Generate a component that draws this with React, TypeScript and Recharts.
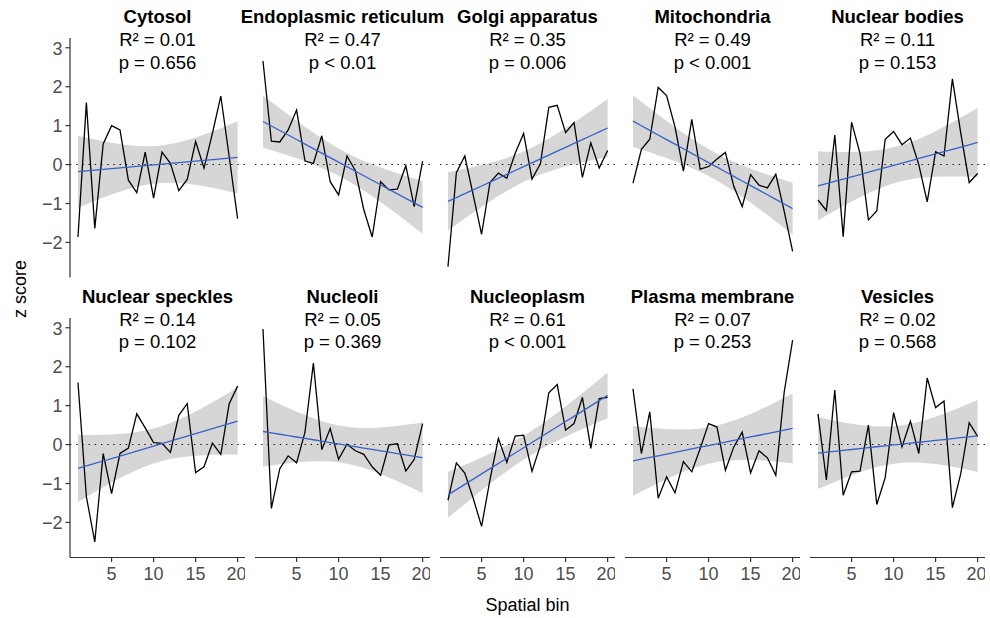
import { ComposedChart, Line, Area, XAxis, YAxis, ReferenceLine } from 'recharts';

const bins = [1, 2, 3, 4, 5, 6, 7, 8, 9, 10, 11, 12, 13, 14, 15, 16, 17, 18, 19, 20];
const xTicks = [5, 10, 15, 20];
const yTicks = [-2, -1, 0, 1, 2, 3];

const cytosol = [-1.86, 1.59, -1.64, 0.53, 1.0, 0.89, -0.4, -0.72, 0.32, -0.86, 0.32, 0.03, -0.67, -0.38, 0.59, -0.09, 0.8, 1.76, 0.2, -1.39];
const er = [2.66, 0.6, 0.58, 0.89, 1.4, 0.09, 0.03, 0.74, -0.44, -0.78, 0.22, -0.16, -1.16, -1.86, -0.44, -0.65, -0.63, -0.03, -1.08, 0.09];
const golgi = [-2.62, -0.21, 0.22, -0.78, -1.79, -0.46, -0.22, -0.35, 0.29, 0.8, -0.37, 0.02, 1.47, 1.52, 0.82, 1.08, -0.33, 0.56, -0.09, 0.36];
const mito = [-0.48, 0.39, 0.65, 1.98, 1.77, 0.97, -0.17, 1.16, -0.12, -0.05, 0.14, 0.31, -0.56, -1.08, -0.26, -0.53, -0.6, -0.25, -1.2, -2.23];
const nucBodies = [-0.91, -1.18, 0.76, -1.85, 1.09, 0.29, -1.42, -1.19, 0.65, 0.85, 0.51, 0.68, 0.0, -0.96, 0.33, 0.22, 2.2, 0.8, -0.46, -0.23];
const speckles = [1.59, -1.34, -2.5, -0.23, -1.26, -0.23, -0.09, 0.79, 0.43, 0.05, 0.03, -0.2, 0.75, 1.05, -0.72, -0.57, 0.04, -0.25, 1.05, 1.5];
const nucleoli = [2.97, -1.64, -0.62, -0.29, -0.47, 0.32, 2.09, -0.13, 0.41, -0.38, 0.01, -0.16, -0.25, -0.57, -0.79, -0.01, 0.02, -0.68, -0.38, 0.54];
const nucleoplasm = [-1.43, -0.47, -0.73, -1.38, -2.1, -0.9, 0.16, -0.46, 0.22, 0.24, -0.69, -0.02, 1.33, 1.54, 0.37, 0.54, 1.21, -0.1, 1.18, 1.21];
const plasma = [1.43, -0.23, 0.84, -1.38, -0.83, -1.24, -0.44, -0.7, -0.1, 0.54, 0.45, -0.66, -0.06, 0.32, -0.73, -0.16, -0.34, -0.79, 1.35, 2.68];
const vesicles = [0.79, -0.91, 1.4, -1.3, -0.7, -0.68, 0.5, -1.54, -0.85, 0.82, -0.06, 0.6, -0.23, 1.71, 0.95, 1.12, -1.62, -0.74, 0.56, 0.21];

const titles = ['Cytosol', 'Endoplasmic reticulum', 'Golgi apparatus', 'Mitochondria', 'Nuclear bodies', 'Nuclear speckles', 'Nucleoli', 'Nucleoplasm', 'Plasma membrane', 'Vesicles'];
const r2Labels = ['0.01', '0.47', '0.35', '0.49', '0.11', '0.14', '0.05', '0.61', '0.07', '0.02'];
const pLabels = ['p = 0.656', 'p < 0.01', 'p = 0.006', 'p < 0.001', 'p = 0.153', 'p = 0.102', 'p = 0.369', 'p < 0.001', 'p = 0.253', 'p = 0.568'];
const series = [cytosol, er, golgi, mito, nucBodies, speckles, nucleoli, nucleoplasm, plasma, vesicles];

const FONT = '"Liberation Sans", Arial, Helvetica, sans-serif';
const PANEL_W = 175.6;
const PANEL_H = 239.5;
const COL_STEP = 185;
const FIRST_LEFT = 69.7;
const ROW_TOPS = [38.3, 317.7];
const Y_AXIS_W = 70;
const X_AXIS_H = 32;

// linear fit with 95% confidence band, like geom_smooth(method = "lm")
function withFit(ys: number[]) {
  const n = ys.length;
  const mx = bins.reduce((s, v) => s + v, 0) / n;
  const my = ys.reduce((s, v) => s + v, 0) / n;
  let sxx = 0;
  let sxy = 0;
  bins.forEach((x, i) => {
    sxx += (x - mx) ** 2;
    sxy += (x - mx) * (ys[i] - my);
  });
  const b = sxy / sxx;
  const a = my - b * mx;
  const rss = bins.reduce((s, x, i) => s + (ys[i] - a - b * x) ** 2, 0);
  const s2 = rss / (n - 2);
  const t = 2.100922;
  return bins.map((x, i) => {
    const fit = a + b * x;
    const se = Math.sqrt(s2 * (1 / n + (x - mx) ** 2 / sxx));
    return { x, z: ys[i], fit, band: [fit - t * se, fit + t * se] };
  });
}

function Panel({ index }: { index: number }) {
  const col = index % 5;
  const row = Math.floor(index / 5);
  const showY = col === 0;
  const showX = row === 1;
  const data = withFit(series[index]);
  const left = FIRST_LEFT + col * COL_STEP - (showY ? Y_AXIS_W : 0);
  const top = ROW_TOPS[row];
  const width = PANEL_W + (showY ? Y_AXIS_W : 0);
  const height = PANEL_H + (showX ? X_AXIS_H : 0);
  const tickStyle = { fill: '#4d4d4d', fontSize: 18, fontFamily: FONT };

  return (
    <div style={{ position: 'absolute', left, top }}>
      <ComposedChart width={width} height={height} data={data} margin={{ top: 0, right: 0, bottom: 0, left: 0 }}>
        <XAxis
          dataKey="x"
          type="number"
          domain={[0.05, 20.95]}
          ticks={xTicks}
          allowDataOverflow
          hide={!showX}
          height={X_AXIS_H}
          tick={tickStyle}
          tickSize={4.5}
          tickMargin={5}
          stroke="#333333"
          strokeWidth={1.2}
        />
        <YAxis
          type="number"
          domain={[-2.9, 3.25]}
          ticks={yTicks}
          allowDataOverflow
          hide={!showY}
          width={Y_AXIS_W}
          tick={tickStyle}
          tickSize={4.5}
          tickMargin={3}
          stroke="#333333"
          strokeWidth={1.2}
          tickFormatter={(v: number) => (v < 0 ? `\u2212${Math.abs(v)}` : `${v}`)}
        />
        <Area dataKey="band" type="linear" stroke="none" fill="#d6d6d6" fillOpacity={1} isAnimationActive={false} />
        <ReferenceLine y={0} stroke="#000000" strokeWidth={1.1} strokeDasharray="1.3 4.9" />
        <Line dataKey="z" type="linear" stroke="#000000" strokeWidth={1.3} dot={false} isAnimationActive={false} />
        <Line dataKey="fit" type="linear" stroke="#3a60c8" strokeWidth={1.3} dot={false} isAnimationActive={false} />
      </ComposedChart>
    </div>
  );
}

export default function App() {
  const textStyle = { fontFamily: FONT, fontSize: 18.5, fill: '#000000' };
  return (
    <div style={{ position: 'absolute', left: 0, top: 0, width: 990, height: 618, background: '#ffffff', fontFamily: FONT }}>
      {titles.map((_, i) => (
        <Panel key={i} index={i} />
      ))}
      <svg width={990} height={618} style={{ position: 'absolute', left: 0, top: 0, pointerEvents: 'none' }}>
        {titles.map((title, i) => {
          const cx = FIRST_LEFT + (i % 5) * COL_STEP + PANEL_W / 2;
          const base = Math.floor(i / 5) === 0 ? 23 : 302.5;
          return (
            <g key={title}>
              <text x={cx} y={base} textAnchor="middle" style={{ ...textStyle, fontWeight: 'bold' }}>{title}</text>
              <text x={cx} y={base + 23} textAnchor="middle" style={textStyle}>{`R\u00b2 = ${r2Labels[i]}`}</text>
              <text x={cx} y={base + 45.5} textAnchor="middle" style={textStyle}>{pLabels[i]}</text>
            </g>
          );
        })}
        <text x={527.5} y={611} textAnchor="middle" style={{ ...textStyle, fontSize: 18 }}>Spatial bin</text>
        <text x={0} y={0} textAnchor="middle" transform="translate(26 289) rotate(-90)" style={{ ...textStyle, fontSize: 18 }}>z score</text>
      </svg>
    </div>
  );
}
